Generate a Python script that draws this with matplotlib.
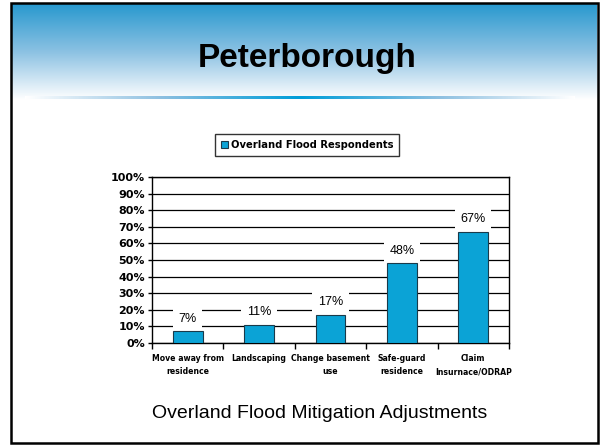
import numpy as np
import matplotlib.pyplot as plt
from matplotlib.colors import LinearSegmentedColormap
from matplotlib.patches import Rectangle

# data
categories = ['Move away from\nresidence', 'Landscaping', 'Change basement\nuse',
              'Safe-guard\nresidence', 'Claim\nInsurnace/ODRAP']
values = [7, 11, 17, 48, 67]
series_name = 'Overland Flood Respondents'
yticks = [0, 10, 20, 30, 40, 50, 60, 70, 80, 90, 100]

bar_color = '#0ba3d6'
head_blue = (0.16, 0.60, 0.81)

fig = plt.figure(figsize=(6, 4.45), dpi=100)

# slide background (pixel coords)
bg = fig.add_axes([0, 0, 1, 1])
bg.set_xlim(0, 600)
bg.set_ylim(445, 0)
bg.axis('off')

# header gradient
grad = np.linspace(0, 1, 200).reshape(-1, 1)
cmap_head = LinearSegmentedColormap.from_list('head', [head_blue, (0.55, 0.76, 0.89), (1, 1, 1)])
bg.imshow(grad, cmap=cmap_head, extent=[12, 597, 100, 4], aspect='auto', zorder=0)

# divider line, blue in middle fading out
line = np.abs(np.linspace(-1, 1, 400)).reshape(1, -1)
cmap_line = LinearSegmentedColormap.from_list('ln', [(0.0, 0.62, 0.85), (0.55, 0.75, 0.88), (1, 1, 1)])
bg.imshow(line, cmap=cmap_line, extent=[25, 575, 99.5, 96.5], aspect='auto', zorder=1)

# slide frame
bg.add_patch(Rectangle((11, 3), 587, 440, fill=False, edgecolor='black', lw=1.8, zorder=3))

bg.text(307, 59, 'Peterborough', ha='center', va='center', fontsize=24, fontweight='bold',
        family='Liberation Sans')
bg.text(320, 413, 'Overland Flood Mitigation Adjustments', ha='center', va='center',
        fontsize=14, family='Liberation Sans')

# chart
ax = fig.add_axes([152 / 600, 1 - 343 / 445, 357 / 600, 166 / 445])
x = np.arange(len(categories))
bars = ax.bar(x, values, width=0.42, color=bar_color, edgecolor='#1a3a4a', lw=0.8,
              label=series_name, zorder=3)

ax.set_xlim(-0.5, len(categories) - 0.5)
ax.set_ylim(0, 100)
ax.set_yticks(yticks)
ax.set_yticklabels([f'{v}%' for v in yticks], fontsize=8, fontweight='bold')
ax.yaxis.grid(True, color='black', lw=0.9, zorder=0)
ax.set_axisbelow(True)

ax.set_xticks(x)
ax.set_xticklabels(categories, fontsize=5.6, fontweight='bold', linespacing=1.6, va='top')
ax.tick_params(axis='x', length=0, pad=8)
ax.set_xticks(np.arange(-0.5, len(categories)), minor=True)
ax.tick_params(axis='x', which='minor', length=4, direction='out', width=1)
ax.tick_params(axis='y', length=3, width=1, pad=2)
for s in ax.spines.values():
    s.set_linewidth(1)
    s.set_color('black')

for b, v in zip(bars, values):
    ax.text(b.get_x() + b.get_width() / 2, v + 7.5, f'{v}%', ha='center', va='center',
            fontsize=9, family='Liberation Sans', zorder=4,
            bbox=dict(facecolor='white', edgecolor='none', pad=4))

leg = ax.legend(loc='center', bbox_to_anchor=(307 / 600, 1 - 144.5 / 445),
                bbox_transform=fig.transFigure, frameon=True, fancybox=False,
                prop={'size': 7.2, 'weight': 'bold'}, handlelength=0.7, handleheight=0.7,
                handletextpad=0.3, borderpad=0.6, borderaxespad=0)
leg.get_frame().set_edgecolor('black')
leg.get_frame().set_linewidth(1)

fig.savefig('out.png', dpi=100)
